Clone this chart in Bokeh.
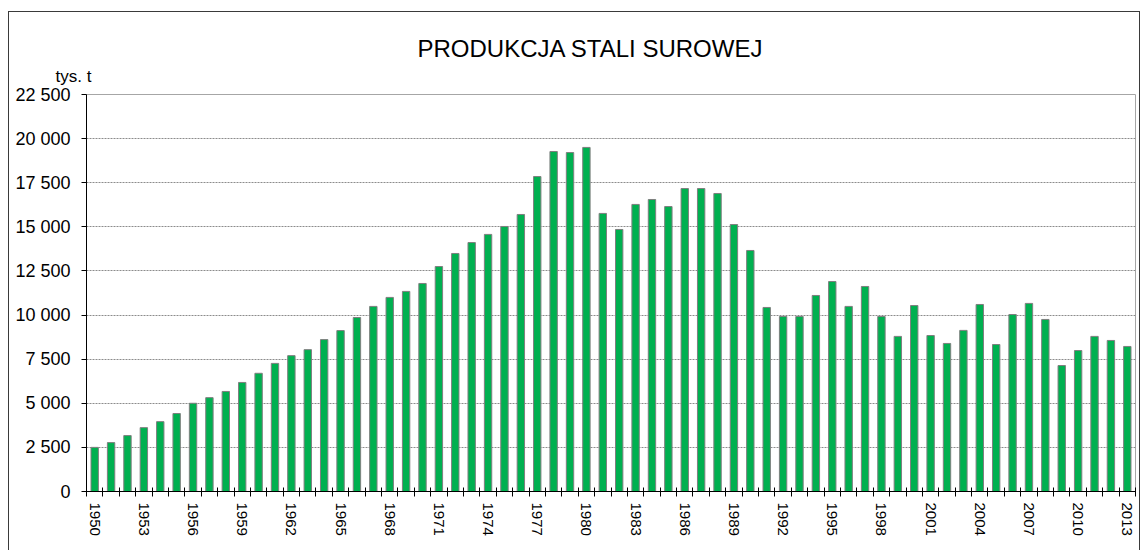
from bokeh.plotting import figure
from bokeh.models import Range1d, FixedTicker, Title
from bokeh.embed import file_html
from bokeh.resources import INLINE

# ---- data ----
years = list(range(1950, 2014))
production = [
    2500, 2770, 3170, 3620, 3960, 4420, 5000, 5320, 5670, 6180,
    6700, 7260, 7700, 8040, 8610, 9120, 9860, 10490, 11000, 11340,
    11790, 12750, 13490, 14110, 14570, 15020, 15700, 17850, 19270, 19210,
    19500, 15760, 14850, 16270, 16550, 16150, 17170, 17170, 16890, 15130,
    13660, 10430, 9920, 9920, 11110, 11900, 10490, 11620, 9920, 8790,
    10540, 8840, 8390, 9130, 10600, 8330, 10030, 10660, 9750, 7140,
    7990, 8790, 8560, 8220,
]
label_years = list(range(1950, 2014, 3))
y_ticks = [0, 2500, 5000, 7500, 10000, 12500, 15000, 17500, 20000, 22500]
y_tick_labels = ["0", "2 500", "5 000", "7 500", "10 000", "12 500",
                 "15 000", "17 500", "20 000", "22 500"]
title_text = "PRODUKCJA STALI SUROWEJ"
unit_text = "tys. t"

FONT = "Liberation Sans"

p = figure(
    width=1132, height=539,
    x_range=Range1d(years[0] - 0.5, years[-1] + 0.5),
    y_range=Range1d(y_ticks[0], y_ticks[-1]),
    output_backend="svg", toolbar_location=None, title=None,
    min_border_left=77, min_border_right=6, min_border_top=82, min_border_bottom=60,
    styles={"border": "1px solid #3a3a3a", "border-bottom": "none",
            "margin-top": "11px", "margin-left": "8px"},
)
p.outline_line_color = "#a6a6a6"
p.background_fill_color = "white"
p.border_fill_color = "white"

p.add_layout(Title(text=unit_text, align="left", offset=-31, standoff=17,
                   text_font=FONT, text_font_size="17px", text_font_style="normal",
                   text_color="black"), "above")
p.add_layout(Title(text=title_text, align="left", offset=331, standoff=-10,
                   text_font=FONT, text_font_size="24px", text_font_style="normal",
                   text_color="black"), "above")

p.vbar(x=years, top=production, width=0.45, fill_color="#00B050",
       line_color="#7f7f7f", line_width=1)

# x axis
boundaries = [y - 0.5 for y in years] + [years[-1] + 0.5]
xa = p.xaxis[0]
xa.ticker = FixedTicker(ticks=label_years, minor_ticks=boundaries)
xa.major_tick_line_color = None
xa.major_tick_in = 0
xa.major_tick_out = 0
xa.minor_tick_line_color = "black"
xa.minor_tick_in = 4
xa.minor_tick_out = 5
xa.axis_line_color = "black"
xa.major_label_orientation = "vertical"
xa.major_label_standoff = 6
xa.major_label_text_font = FONT
xa.major_label_text_font_size = "15px"
xa.major_label_text_color = "black"

# y axis
ya = p.yaxis[0]
ya.ticker = FixedTicker(ticks=y_ticks)
ya.major_label_overrides = {t: s for t, s in zip(y_ticks, y_tick_labels)}
ya.minor_tick_line_color = None
ya.major_tick_in = 0
ya.major_tick_out = 5
ya.major_tick_line_color = "black"
ya.axis_line_color = "black"
ya.major_label_standoff = 11
ya.major_label_text_font = FONT
ya.major_label_text_font_size = "18px"
ya.major_label_text_color = "black"

p.xgrid.grid_line_color = None
p.ygrid.grid_line_color = "#8c8c8c"
p.ygrid.grid_line_dash = "2 1"
p.ygrid.grid_line_width = 1

open("out.html", "w").write(file_html(p, INLINE))
